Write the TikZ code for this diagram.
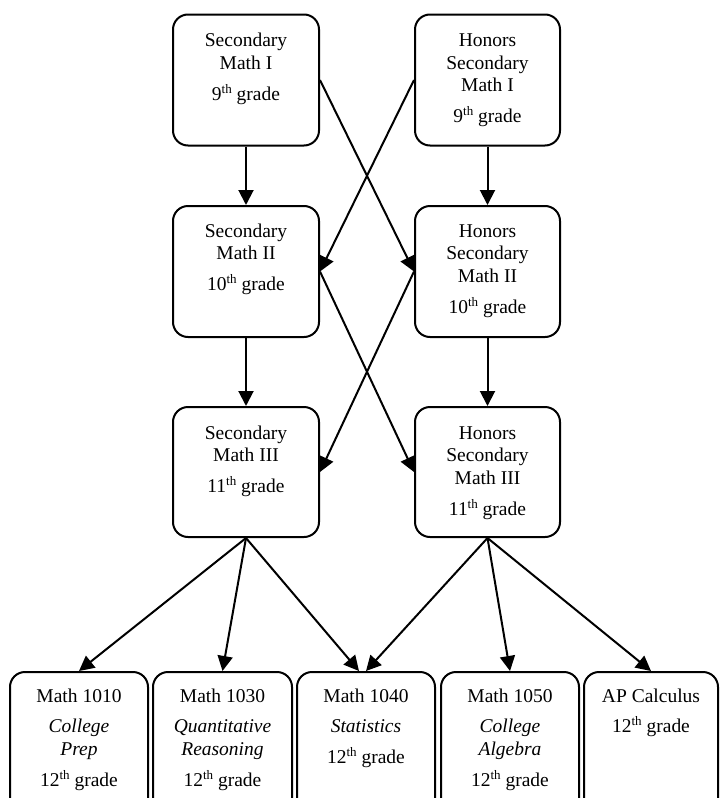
\documentclass[tikz,border=0pt]{standalone}
\usepackage{fontspec}
\setmainfont{Liberation Serif}
\usetikzlibrary{arrows.meta,calc}
\newcommand\sups[1]{\raisebox{7pt}{\fontsize{13}{13}\selectfont #1}}
\newcommand\boxtext[4]{\parbox[c][#2pt][t]{#1pt}{\centering\rule{0pt}{#3pt}#4}}
\tikzset{
  box/.style={draw, line width=2pt, rounded corners=15pt, inner sep=0pt, font=\fontsize{19.5}{22.5}\selectfont},
  arr/.style={line width=2pt, -{Triangle[length=15pt,width=15pt]}}
}
\begin{document}
\begin{tikzpicture}[x=1pt,y=-1pt]
\useasboundingbox (0,0) rectangle (720,798);
\fill[white] (0,0) rectangle (720,798);
\clip (0,0) rectangle (720,798);
% row 1
\node[box] (s1) at (246,80) {\boxtext{146}{131}{32}{Secondary\\Math I\\[8.5pt]9\sups{th} grade}};
\node[box] (h1) at (487.5,80) {\boxtext{145}{131}{32}{Honors\\Secondary\\Math I\\[8.5pt]9\sups{th} grade}};
% row 2
\node[box] (s2) at (246,271.5) {\boxtext{146}{131}{31}{Secondary\\Math II\\[8.5pt]10\sups{th} grade}};
\node[box] (h2) at (487.5,271.5) {\boxtext{145}{131}{31}{Honors\\Secondary\\Math II\\[8.5pt]10\sups{th} grade}};
% row 3
\node[box] (s3) at (246,472) {\boxtext{146}{130}{32}{Secondary\\Math III\\[8.5pt]11\sups{th} grade}};
\node[box] (h3) at (487.5,472) {\boxtext{145}{130}{32}{Honors\\Secondary\\Math III\\[8.5pt]11\sups{th} grade}};
% bottom row
\node[box] (m1010) at (79,747) {\boxtext{138}{150}{30}{Math 1010\\[8pt]{\itshape College\\Prep}\\[8.5pt]12\sups{th} grade}};
\node[box] (m1030) at (222.5,747) {\boxtext{139}{150}{30}{Math 1030\\[8pt]{\itshape Quantitative\\Reasoning}\\[8.5pt]12\sups{th} grade}};
\node[box] (m1040) at (366,747) {\boxtext{138}{150}{30}{Math 1040\\[8pt]{\itshape Statistics}\\[8pt]12\sups{th} grade}};
\node[box] (m1050) at (510,747) {\boxtext{138}{150}{30}{Math 1050\\[8pt]{\itshape College\\Algebra}\\[8.5pt]12\sups{th} grade}};
\node[box] (ap) at (651,747) {\boxtext{134}{150}{30}{AP Calculus\\[8pt]12\sups{th} grade}};
% arrows
\draw[arr] (s1.south) -- (s2.north);
\draw[arr] (h1.south) -- (h2.north);
\draw[arr] (s1.east) -- (h2.west);
\draw[arr] (h1.west) -- (s2.east);
\draw[arr] (s2.south) -- (s3.north);
\draw[arr] (h2.south) -- (h3.north);
\draw[arr] (s2.east) -- (h3.west);
\draw[arr] (h2.west) -- (s3.east);
\draw[arr] (s3.south) -- (m1010.north);
\draw[arr] (s3.south) -- (m1030.north);
\draw[arr] (s3.south) -- ($(m1040.north)+(-7,0)$);
\draw[arr] (h3.south) -- (m1040.north);
\draw[arr] (h3.south) -- (m1050.north);
\draw[arr] (h3.south) -- (ap.north);
\end{tikzpicture}
\end{document}
